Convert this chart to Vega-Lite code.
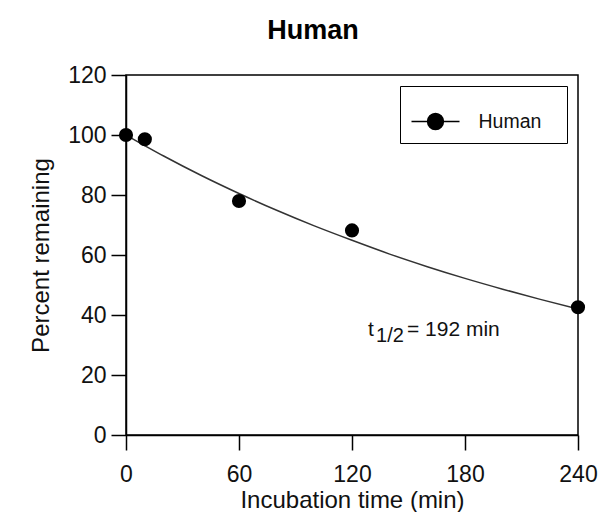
{
  "$schema": "https://vega.github.io/schema/vega-lite/v6.json",
  "width": 452,
  "height": 360,
  "autosize": {"type": "none"},
  "padding": {"left": 126, "top": 75, "right": 25, "bottom": 77},
  "background": "white",
  "config": {
    "font": "Liberation Sans",
    "view": {"stroke": "black", "strokeWidth": 1.5},
    "axis": {
      "domainColor": "black", "domainWidth": 1.5,
      "tickColor": "black", "tickWidth": 1.5, "tickSize": 15,
      "labelFont": "Liberation Sans", "labelFontSize": 23, "labelColor": "#111",
      "labelFlush": false, "labelOverlap": false,
      "titleFont": "Liberation Sans", "titleFontSize": 24, "titleFontWeight": "normal", "titleColor": "#111",
      "grid": false
    }
  },
  "title": {
    "text": "Human", "fontSize": 27, "fontWeight": "bold", "font": "Liberation Sans",
    "anchor": "middle", "frame": "group", "dx": -39, "offset": 19, "color": "black"
  },
  "datasets": {
    "obs": [
      {"time": 0, "pct": 100, "series": "Human"},
      {"time": 10, "pct": 98.6, "series": "Human"},
      {"time": 60, "pct": 78, "series": "Human"},
      {"time": 120, "pct": 68.2, "series": "Human"},
      {"time": 240, "pct": 42.6, "series": "Human"}
    ],
    "fit": [
      {"time": 0, "pct": 100}, {"time": 20, "pct": 93.0}, {"time": 40, "pct": 86.5},
      {"time": 60, "pct": 80.5}, {"time": 80, "pct": 74.9}, {"time": 100, "pct": 69.7},
      {"time": 120, "pct": 64.9}, {"time": 140, "pct": 60.3}, {"time": 160, "pct": 56.1},
      {"time": 180, "pct": 52.2}, {"time": 200, "pct": 48.6}, {"time": 220, "pct": 45.2},
      {"time": 240, "pct": 42.0}
    ]
  },
  "layer": [
    {
      "data": {"name": "fit"},
      "mark": {"type": "line", "color": "#333", "strokeWidth": 1.5, "interpolate": "monotone"},
      "encoding": {
        "x": {"field": "time", "type": "quantitative",
              "scale": {"domain": [0, 240], "nice": false},
              "axis": {"values": [0, 60, 120, 180, 240], "title": "Incubation time (min)", "labelPadding": 13, "titlePadding": 2}},
        "y": {"field": "pct", "type": "quantitative",
              "scale": {"domain": [0, 120], "nice": false},
              "axis": {"values": [0, 20, 40, 60, 80, 100, 120], "title": "Percent remaining", "labelPadding": 5, "titlePadding": 14}}
      }
    },
    {
      "data": {"name": "obs"},
      "mark": {"type": "point", "filled": true, "size": 200, "opacity": 1},
      "encoding": {
        "x": {"field": "time", "type": "quantitative"},
        "y": {"field": "pct", "type": "quantitative"},
        "color": {
          "field": "series", "type": "nominal",
          "scale": {"range": ["black"]},
          "legend": {
            "title": null, "orient": "top-right", "offset": 11,
            "strokeColor": "black", "padding": 10.5,
            "symbolType": "M-1,0H1M-0.33,0A0.33,0.33 0 1,0 0.33,0A0.33,0.33 0 1,0 -0.33,0Z",
            "symbolSize": 2304, "symbolFillColor": "black", "symbolStrokeColor": "black", "symbolStrokeWidth": 1.5,
            "labelFontSize": 19.5, "labelFont": "Liberation Sans", "labelColor": "#111", "labelOffset": 18,
            "labelExpr": "datum.label + '\u2800'"
          }
        }
      }
    },
    {
      "data": {"values": [{"t": "t"}]},
      "mark": {"type": "text", "align": "left", "baseline": "alphabetic", "fontSize": 21, "color": "#111"},
      "encoding": {"x": {"datum": 128.5}, "y": {"datum": 33}, "text": {"field": "t"}}
    },
    {
      "data": {"values": [{"t": "1/2"}]},
      "mark": {"type": "text", "align": "left", "baseline": "alphabetic", "fontSize": 20, "color": "#111", "dy": 6},
      "encoding": {"x": {"datum": 132.8}, "y": {"datum": 33}, "text": {"field": "t"}}
    },
    {
      "data": {"values": [{"t": "=  192 min"}]},
      "mark": {"type": "text", "align": "left", "baseline": "alphabetic", "fontSize": 21, "color": "#111"},
      "encoding": {"x": {"datum": 149.2}, "y": {"datum": 33}, "text": {"field": "t"}}
    }
  ]
}
